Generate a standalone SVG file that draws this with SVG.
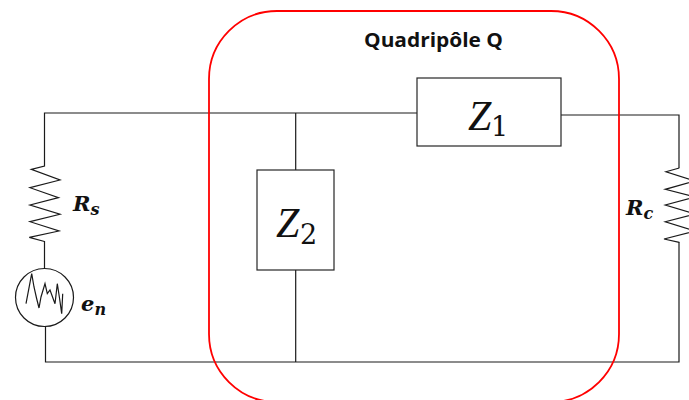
<svg xmlns="http://www.w3.org/2000/svg" width="689" height="400" viewBox="0 0 689 400">
<style>
.w{fill:none;stroke:#1a1a1a;stroke-width:1.2}
.b{fill:#fff;stroke:#262626;stroke-width:1.2}
.z{font-family:"Liberation Serif","DejaVu Serif",serif;font-style:italic;font-size:42px;fill:#111}
.n{font-family:"DejaVu Serif",serif;font-size:27px;fill:#111}
.m{font-family:"DejaVu Serif",serif;font-weight:bold;font-style:italic;font-size:21px;fill:#111}
.s{font-size:16px}
</style>
<g id="connectors">
<path class="w" d="M417 113H44.5V165"/>
<path class="w" d="M561 115H679V168"/>
<path class="w" d="M295.7 113V170M295.7 270V362"/>
<path class="w" d="M44.5 241V269M45.5 326V362H679V242"/>
</g>
<g id="resistor-rs"><path class="w" d="M44.5 165V166L31.3 169.3L60 180L30 187.7L58.5 197.7L30 205L60 214.3L30 221.7L59 231L29.3 237.3L44.5 241.5"/></g>
<g id="resistor-rc"><path class="w" d="M679.3 168L666 171.7L695 181L665.3 189.3L695 197L665.3 205L695 214L665.3 221.7L695 231L664 239L679.3 242.3"/></g>
<g id="source-en">
<circle class="w" cx="44.5" cy="297.5" r="29"/>
<path class="w" d="M26 303.7L31.7 273.7L34 287L36.5 298L39 308L41 297L45 283.7L47.3 293.7L50 290L55 303.7L57.3 283.7L59.5 298L61.7 313.7L62.7 293.7"/>
</g>
<g id="z1"><rect class="b" x="417" y="78" width="144" height="68"/>
<text class="z" x="468" y="130">Z</text><text class="n" x="491" y="136">1</text></g>
<g id="z2"><rect class="b" x="257" y="170" width="77" height="100"/>
<text class="z" x="276" y="237">Z</text><text class="n" x="300" y="244">2</text></g>
<g id="quadripole"><rect x="209" y="11" width="410" height="391" rx="68" ry="68" fill="none" stroke="#f00" stroke-width="1.8"/>
<text x="364" y="47" font-family="'Open Sans',sans-serif" font-weight="700" font-size="20" fill="#111" textLength="139" lengthAdjust="spacingAndGlyphs">Quadripôle Q</text></g>
<g id="labels">
<text class="m" x="73" y="211">R<tspan class="s" dy="4">s</tspan></text>
<text class="m" x="81" y="311">e<tspan class="s" dy="4">n</tspan></text>
<text class="m" x="626" y="215">R<tspan class="s" dy="4">c</tspan></text>
</g>
</svg>
